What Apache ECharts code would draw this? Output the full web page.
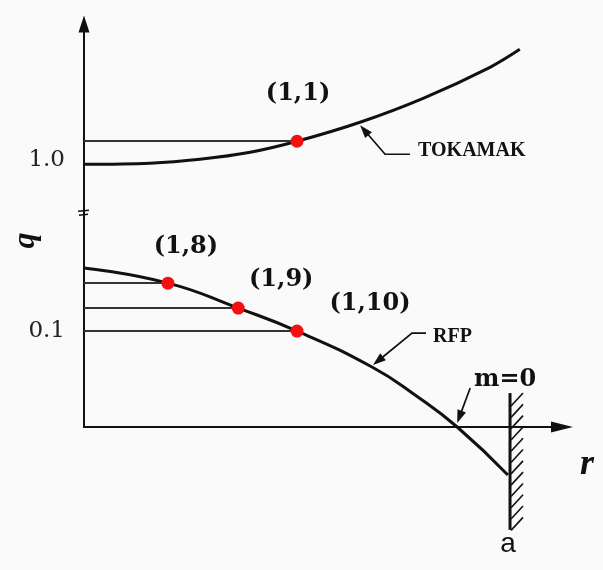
<!DOCTYPE html>
<html>
<head>
<meta charset="utf-8">
<script src="https://cdn.jsdelivr.net/npm/echarts@6/dist/echarts.min.js"></script>
<style>
  html, body { margin: 0; padding: 0; background: #fafafa; }
  #chart { width: 603px; height: 570px; }
</style>
</head>
<body>
<div id="chart"></div>
<script>
// Safety factor profiles q(r); r in units of the minor radius a,
// q drawn on a schematic (broken) height scale.
const tokamakR = [0, 0.155, 0.272, 0.390, 0.500, 0.648, 0.796, 0.953, 1.023];
const tokamakQ = [0.2725, 0.2736, 0.2777, 0.2850, 0.2964, 0.3161, 0.3409, 0.3731, 0.3917];

const rfpR = [0, 0.197, 0.362, 0.500, 0.676, 0.777, 0.876, 0.995];
const rfpQ = [0.1649, 0.1492, 0.1233, 0.0995, 0.0622, 0.0332, 0, -0.0498];

// Resonant surfaces (m,n) marked on the profiles
const resonantLabels = ['(1,1)', '(1,8)', '(1,9)', '(1,10)'];
const resonantR = [0.500, 0.197, 0.362, 0.500];
const resonantQ = [0.2964, 0.1492, 0.1233, 0.0995];

// q axis labels and where they sit on the schematic scale
const qTickLabels = ['0.1', '1.0'];
const qTickAt = [0.0995, 0.2767];

// Conducting wall at r = a, and the axis break
const wallR = 1.0;
const wallTop = 0.0352;
const wallBottom = -0.1067;
const wallLabel = 'a';
const breakAt = 0.2217;
const rAxisMax = 1.122;

// Curve callouts: name, anchor point on the curve
const calloutTexts = ['TOKAMAK', 'RFP', 'm=0'];
const calloutAnchors = [
  [tokamakR[5], tokamakQ[5]],
  [rfpR[4], rfpQ[4]],
  [rfpR[6], rfpQ[6]]
];

// ---- layout (pixel offsets) ----
const labelOffsets = [[1, -47], [18, -36], [43, -28], [73, -27]];
const calloutLayout = [
  { tip: [0, 3], path: [[25, 32], [50, 32]], text: [58, 29], align: 'left', font: 'bold 20px "Liberation Serif"' },
  { tip: [1, -2], path: [[40, -34], [54, -34]], text: [61, -30], align: 'left', font: 'bold 20px "Liberation Serif"' },
  { tip: [0, -4], path: [[13, -39]], text: [48, -47], align: 'center', font: 'bold 24px "DejaVu Serif"' }
];
const INK = '#111';

const chart = echarts.init(document.getElementById('chart'), null, { renderer: 'canvas' });

function arrowGroup(tip, pts) {
  const dx = pts[0][0] - tip[0], dy = pts[0][1] - tip[1];
  const len = Math.hypot(dx, dy);
  const ux = dx / len, uy = dy / len;
  const L = 13, W = 4.5;
  const base = [tip[0] + ux * L, tip[1] + uy * L];
  const head = [tip, [base[0] - uy * W, base[1] + ux * W], [base[0] + uy * W, base[1] - ux * W]];
  return [
    { type: 'polyline', shape: { points: [[tip[0] + ux * 6, tip[1] + uy * 6]].concat(pts) },
      style: { stroke: INK, lineWidth: 1.7, fill: null } },
    { type: 'polygon', shape: { points: head }, style: { fill: INK } }
  ];
}

const option = {
  backgroundColor: '#fafafa',
  animation: false,
  grid: { left: 84, right: 41, top: 24, bottom: 143, containLabel: false, outerBoundsMode: 'none' },
  xAxis: {
    type: 'value', min: 0, max: rAxisMax,
    axisLine: { show: true, onZero: false, symbol: ['none', 'triangle'], symbolSize: [11, 22],
                lineStyle: { color: INK, width: 2 } },
    axisTick: { show: false }, axisLabel: { show: false }, splitLine: { show: false }
  },
  yAxis: {
    type: 'value', min: 0, max: 0.418,
    name: 'q', nameLocation: 'middle', nameGap: 42, nameRotate: 90, nameMoveOverlap: false,
    nameTextStyle: { fontFamily: 'Liberation Serif', fontStyle: 'italic', fontWeight: 'bold',
                     fontSize: 32, color: INK, padding: [0, 30, 0, 0] },
    axisLine: { show: true, onZero: false, symbol: ['none', 'triangle'], symbolSize: [11, 17],
                lineStyle: { color: INK, width: 2 } },
    axisTick: { show: false }, splitLine: { show: false },
    axisLabel: {
      show: true, customValues: qTickAt, margin: 19,
      fontFamily: 'DejaVu Serif', fontSize: 23, color: '#222',
      formatter: function (v) {
        let best = 0;
        qTickAt.forEach((t, i) => { if (Math.abs(t - v) < Math.abs(qTickAt[best] - v)) best = i; });
        return qTickLabels[best];
      }
    }
  },
  series: [
    {
      name: 'TOKAMAK', type: 'line', smooth: 0.35, clip: false, symbol: 'none',
      lineStyle: { color: INK, width: 3 },
      data: tokamakR.map((r, i) => [r, tokamakQ[i]]), z: 3
    },
    {
      name: 'RFP', type: 'line', smooth: 0.5, clip: false, symbol: 'none',
      lineStyle: { color: INK, width: 3 },
      data: rfpR.map((r, i) => [r, rfpQ[i]]), z: 3
    },
    {
      name: 'resonances', type: 'scatter', clip: false, symbol: 'circle', symbolSize: 13,
      itemStyle: { color: '#f41010', opacity: 1 }, z: 5,
      data: resonantR.map((r, i) => ({
        value: [r, resonantQ[i]],
        label: { offset: labelOffsets[i] }
      })),
      label: {
        show: true, position: 'inside',
        formatter: p => resonantLabels[p.dataIndex],
        fontFamily: 'DejaVu Serif', fontWeight: 'bold', fontSize: 24, color: INK
      },
      markLine: {
        silent: true, symbol: 'none', animation: false,
        label: { show: false },
        lineStyle: { color: '#333', width: 2, type: 'solid' },
        data: resonantR.map((r, i) => [{ coord: [0, resonantQ[i]] }, { coord: [r, resonantQ[i]] }])
      }
    },
    {
      name: 'callouts', type: 'custom', clip: false, z: 4,
      data: calloutAnchors,
      renderItem: function (params, api) {
        const lay = calloutLayout[params.dataIndex];
        const p = api.coord([api.value(0), api.value(1)]);
        const tip = [p[0] + lay.tip[0], p[1] + lay.tip[1]];
        const pts = lay.path.map(d => [p[0] + d[0], p[1] + d[1]]);
        const children = arrowGroup(tip, pts);
        children.push({
          type: 'text', x: p[0] + lay.text[0], y: p[1] + lay.text[1],
          style: { text: calloutTexts[params.dataIndex], font: lay.font, fill: INK,
                   align: lay.align, verticalAlign: 'middle' }
        });
        return { type: 'group', children: children };
      }
    },
    {
      name: 'wall', type: 'custom', clip: false, z: 4,
      data: [[wallR, wallTop, wallBottom]],
      renderItem: function (params, api) {
        const top = api.coord([api.value(0), api.value(1)]);
        const bot = api.coord([api.value(0), api.value(2)]);
        const children = [{
          type: 'line', shape: { x1: top[0], y1: top[1], x2: bot[0], y2: bot[1] },
          style: { stroke: INK, lineWidth: 3 }
        }];
        for (let y = top[1] + 13; y <= bot[1] + 1; y += 11.3) {
          children.push({
            type: 'line', shape: { x1: top[0] + 1, y1: y, x2: top[0] + 13, y2: y - 13 },
            style: { stroke: INK, lineWidth: 1.6 }
          });
        }
        children.push({
          type: 'text', x: bot[0] - 2, y: bot[1] + 14,
          style: { text: wallLabel, font: '28px "Liberation Sans"', fill: INK,
                   align: 'center', verticalAlign: 'middle' }
        });
        return { type: 'group', children: children };
      }
    },
    {
      name: 'axis marks', type: 'custom', clip: false, z: 4,
      data: [[0, breakAt], [rAxisMax, 0]],
      renderItem: function (params, api) {
        const p = api.coord([api.value(0), api.value(1)]);
        if (params.dataIndex === 0) {
          // break in the q axis
          return {
            type: 'group', children: [
              { type: 'line', shape: { x1: p[0] - 6, y1: p[1] - 2, x2: p[0] + 5, y2: p[1] - 3 },
                style: { stroke: INK, lineWidth: 1.6 } },
              { type: 'line', shape: { x1: p[0] - 5, y1: p[1] + 2, x2: p[0] + 4, y2: p[1] + 1 },
                style: { stroke: INK, lineWidth: 1.6 } }
            ]
          };
        }
        // r axis title
        return {
          type: 'text', x: p[0] + 25, y: p[1] + 38,
          style: { text: 'r', font: 'italic bold 36px "Liberation Serif"', fill: INK,
                   align: 'center', verticalAlign: 'middle' }
        };
      }
    }
  ]
};

chart.setOption(option);
</script>
</body>
</html>
